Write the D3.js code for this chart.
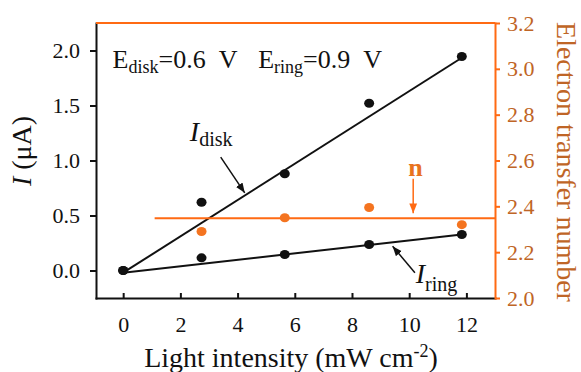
<!DOCTYPE html>
<html>
<head>
<meta charset="utf-8">
<script src="https://cdn.jsdelivr.net/npm/d3@7"></script>
<style>
  body { margin: 0; background: #fff; }
  svg { display: block; font-family: "Liberation Serif", "Times New Roman", serif; }
</style>
</head>
<body>
<div id="chart"></div>
<script>
// data
const intensity = [0, 2.74, 5.65, 8.6, 11.84];
const iDisk = [0, 0.62, 0.88, 1.52, 1.945];
const iRing = [0, 0.115, 0.145, 0.236, 0.327];
const nIntensity = [2.74, 5.65, 8.6, 11.84];
const nValues = [2.29, 2.35, 2.395, 2.32];
const diskFit = [[0, -0.02], [11.84, 1.934]];
const ringFit = [[0, -0.02], [11.84, 0.327]];
const nFit = [[1.1, 2.348], [13, 2.348]];
const xTicks = [0, 2, 4, 6, 8, 10, 12];
const yTicks = [0, 0.5, 1.0, 1.5, 2.0];
const nTicks = [2.0, 2.2, 2.4, 2.6, 2.8, 3.0, 3.2];

const W = 581, H = 372;
const margin = {top: 23, right: 86, bottom: 74, left: 96};
const width = W - margin.left - margin.right;
const height = H - margin.top - margin.bottom;

const black = "#111";
const orange = "#ff6a13";
const brown = "#bf6526";
const dotOrange = "#f47420";

const svg = d3.select("#chart").append("svg")
  .attr("width", W).attr("height", H);

svg.append("defs").append("marker")
  .attr("id", "arrow")
  .attr("viewBox", "0 0 10 10")
  .attr("refX", 10).attr("refY", 5)
  .attr("markerWidth", 6.5).attr("markerHeight", 6.5)
  .attr("markerUnits", "strokeWidth")
  .attr("orient", "auto")
  .append("path").attr("d", "M0,1 L10,5 L0,9 Z").attr("fill", "context-stroke");

const g = svg.append("g").attr("transform", `translate(${margin.left},${margin.top})`);

const x = d3.scaleLinear().domain([-0.95, 13]).range([0, width]);
const yI = d3.scaleLinear().domain([-0.25, 2.25]).range([height, 0]);
const yN = d3.scaleLinear().domain([2.0, 3.2]).range([height, 0]);

// axes
const xAxis = g.append("g").attr("transform", `translate(0,${height})`)
  .call(d3.axisBottom(x).tickValues(xTicks).tickFormat(d3.format("d"))
    .tickSizeInner(-5).tickSizeOuter(0).tickPadding(18));
const yAxis = g.append("g")
  .call(d3.axisLeft(yI).tickValues(yTicks).tickFormat(d3.format(".1f"))
    .tickSizeInner(6).tickSizeOuter(0).tickPadding(10));
const nAxis = g.append("g").attr("transform", `translate(${width},0)`)
  .call(d3.axisRight(yN).tickValues(nTicks).tickFormat(d3.format(".1f"))
    .tickSizeInner(5).tickSizeOuter(0).tickPadding(7));

[xAxis, yAxis].forEach(a => {
  a.selectAll("path, line").attr("stroke", black).attr("stroke-width", 2);
  a.selectAll("text").attr("fill", black).style("font-size", "22px");
});
nAxis.selectAll("path, line").attr("stroke", orange).attr("stroke-width", 2);
nAxis.selectAll("text").attr("fill", brown).style("font-size", "22px");
svg.selectAll(".domain").attr("stroke-linecap", "square");
svg.selectAll("g[font-family]").attr("font-family", null).attr("font-size", null);

// top border in orange
g.append("line")
  .attr("x1", 0).attr("x2", width).attr("y1", 0).attr("y2", 0)
  .attr("stroke", orange).attr("stroke-width", 2);

// fit lines
const lineI = d3.line().x(d => x(d[0])).y(d => yI(d[1]));
const lineN = d3.line().x(d => x(d[0])).y(d => yN(d[1]));
g.append("path").attr("d", lineI(diskFit)).attr("fill", "none").attr("stroke", black).attr("stroke-width", 2);
g.append("path").attr("d", lineI(ringFit)).attr("fill", "none").attr("stroke", black).attr("stroke-width", 2);
g.append("path").attr("d", lineN(nFit)).attr("fill", "none").attr("stroke", orange).attr("stroke-width", 2);

// points
g.selectAll(".disk").data(intensity).enter().append("ellipse")
  .attr("cx", (d) => x(d)).attr("cy", (d, i) => yI(iDisk[i]))
  .attr("rx", 5).attr("ry", 4.5).attr("fill", black);
g.selectAll(".ring").data(intensity).enter().append("ellipse")
  .attr("cx", (d) => x(d)).attr("cy", (d, i) => yI(iRing[i]))
  .attr("rx", 5).attr("ry", 4.5).attr("fill", black);
g.selectAll(".nval").data(nIntensity).enter().append("ellipse")
  .attr("cx", (d) => x(d)).attr("cy", (d, i) => yN(nValues[i]))
  .attr("rx", 5).attr("ry", 4.5).attr("fill", dotOrange);

// annotations
const eText = g.append("text").attr("y", yI(1.845)).attr("fill", black).style("font-size", "26px");
eText.append("tspan").attr("x", x(-0.37)).text("E");
eText.append("tspan").attr("dy", 5).style("font-size", "18px").text("disk");
eText.append("tspan").attr("dy", -5).text("=0.6\u00a0\u00a0V");
eText.append("tspan").attr("x", x(4.72)).text("E");
eText.append("tspan").attr("dy", 5).style("font-size", "18px").text("ring");
eText.append("tspan").attr("dy", -5).text("=0.9\u00a0\u00a0V");

const dLab = g.append("text").attr("x", x(2.33)).attr("y", yI(1.175)).attr("fill", black).style("font-size", "28px");
dLab.append("tspan").style("font-style", "italic").text("I");
dLab.append("tspan").attr("dy", 5).style("font-size", "20px").text("disk");

const rLab = g.append("text").attr("x", x(10.23)).attr("y", yI(-0.112)).attr("fill", black).style("font-size", "28px");
rLab.append("tspan").style("font-style", "italic").text("I");
rLab.append("tspan").attr("dy", 8).style("font-size", "20px").text("ring");

g.append("text").attr("x", x(9.97)).attr("y", yN(2.532)).attr("fill", "#e8731e")
  .style("font-size", "26px").style("font-weight", "bold").text("n");

g.append("line").attr("x1", x(3.41)).attr("y1", yI(1.03)).attr("x2", x(4.25)).attr("y2", yI(0.706))
  .attr("stroke", black).attr("stroke-width", 1.5).attr("marker-end", "url(#arrow)");
g.append("line").attr("x1", x(10.2)).attr("y1", yI(-0.021)).attr("x2", x(9.42)).attr("y2", yI(0.221))
  .attr("stroke", black).attr("stroke-width", 1.5).attr("marker-end", "url(#arrow)");
g.append("line").attr("x1", x(10.14)).attr("y1", yN(2.52)).attr("x2", x(10.14)).attr("y2", yN(2.37))
  .attr("stroke", orange).attr("stroke-width", 1.5).attr("marker-end", "url(#arrow)");

// axis titles
const xt = svg.append("text").attr("x", 291).attr("y", 366.7).attr("text-anchor", "middle")
  .attr("fill", black).style("font-size", "28px");
xt.append("tspan").text("Light intensity (mW cm");
xt.append("tspan").attr("dy", -10).style("font-size", "18px").text("-2");
xt.append("tspan").attr("dy", 10).text(")");

const yt = svg.append("text").attr("transform", "translate(31,151) rotate(-90)")
  .attr("text-anchor", "middle").attr("fill", black).style("font-size", "28px");
yt.append("tspan").style("font-style", "italic").text("I");
yt.append("tspan").text(" (μA)");

svg.append("text").attr("transform", "translate(557,162) rotate(90)")
  .attr("text-anchor", "middle").attr("fill", brown).style("font-size", "28px")
  .text("Electron transfer number");
</script>
</body>
</html>
